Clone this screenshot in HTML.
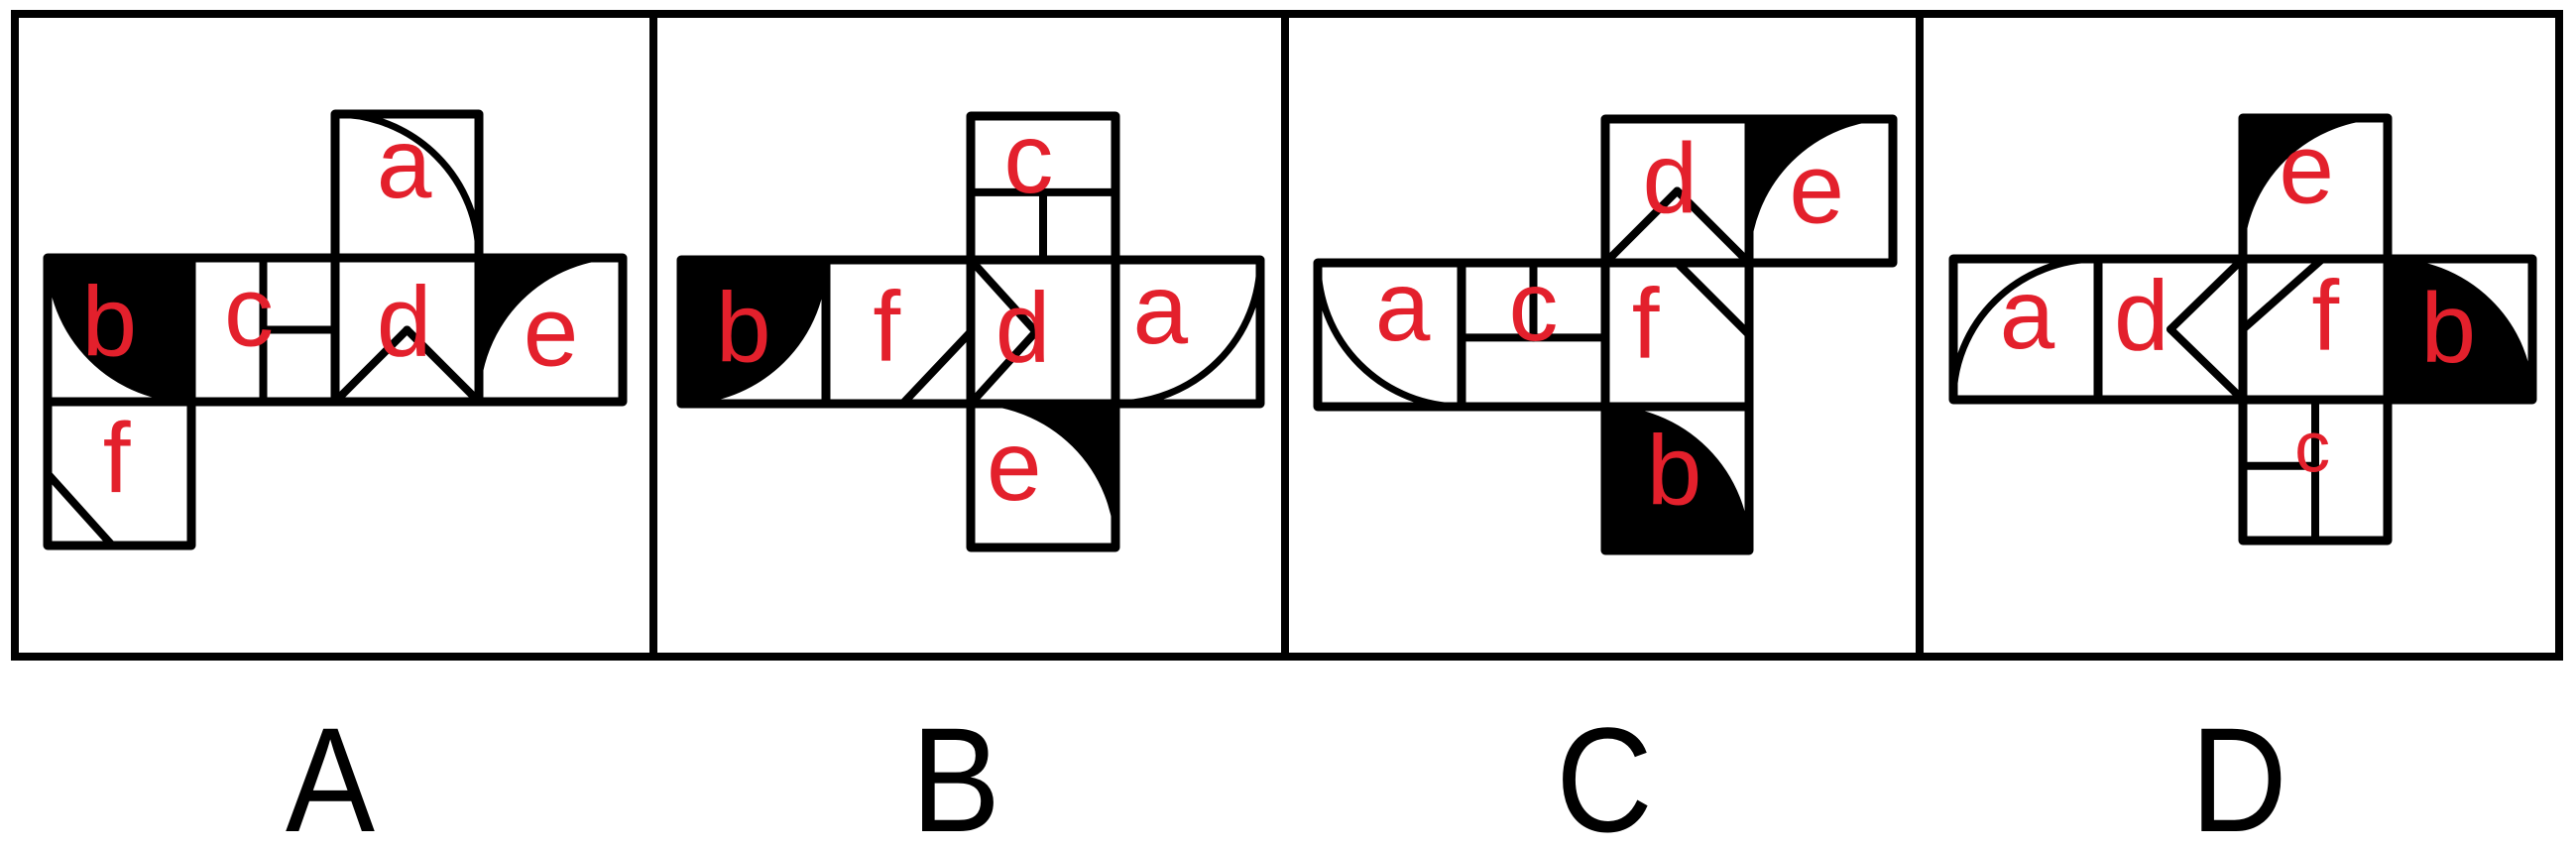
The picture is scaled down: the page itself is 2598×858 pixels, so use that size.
<!DOCTYPE html>
<html><head><meta charset="utf-8"><style>
html,body{margin:0;padding:0;background:#fff;width:2598px;height:858px;overflow:hidden}
svg{display:block}
</style></head><body>
<svg id="fig" width="2598" height="858" viewBox="0 0 2598 858" xmlns="http://www.w3.org/2000/svg">
<rect x="15" y="14" width="2566" height="648" fill="none" stroke="#000" stroke-width="8"/>
<line x1="659" y1="14" x2="659" y2="662" stroke="#000" stroke-width="8"/>
<line x1="1296" y1="14" x2="1296" y2="662" stroke="#000" stroke-width="8"/>
<line x1="1936" y1="14" x2="1936" y2="662" stroke="#000" stroke-width="8"/>
<g font-family="'Liberation Sans', sans-serif" font-size="150" fill="#000" text-anchor="middle">
<text x="333" y="838" transform="translate(333 0) scale(0.9 1) translate(-333 0)">A</text>
<text x="964" y="838" transform="translate(964 0) scale(0.9 1) translate(-964 0)">B</text>
<text x="1618" y="838" transform="translate(1618 0) scale(0.9 1) translate(-1618 0)">C</text>
<text x="2258" y="838" transform="translate(2258 0) scale(0.9 1) translate(-2258 0)">D</text>
</g>
</svg>
<script>
// panel geometry: [originX, originY, cellW, cellH]
const panelOrigins = [[48,115,145,145],[687,117,146,145],[1329,120,145,145],[1970,119,146,142]];
const panelNames = ['a','b','c','d'];
// faces: [col,row,letter,type,param,labelX,labelY]
const facesA = [
 [2,0,'a','arc',[0,1],0.48,0.40],
 [0,1,'b','disk',[1,0],0.43,0.43],
 [1,1,'c','lines',[[0.5,0,0.5,1],[0.5,0.5,1,0.5]],0.40,0.43],
 [2,1,'d','lines',[[0,1,0.5,0.5],[0.5,0.5,1,1]],0.48,0.43],
 [3,1,'e','outside',[1,1],0.50,0.57],
 [0,2,'f','lines',[[0,0.5,0.45,1]],0.48,0.38]
];
const facesB = [
 [2,0,'c','lines',[[0,0.53,1,0.53],[0.5,0.53,0.5,1]],0.40,0.35],
 [0,1,'b','disk',[0,0],0.43,0.46],
 [1,1,'f','lines',[[0.53,1,1,0.5]],0.42,0.45],
 [2,1,'d','lines',[[0,0,0.45,0.5],[0.45,0.5,0,1]],0.36,0.46],
 [3,1,'a','arc',[0,0],0.31,0.40],
 [2,2,'e','outside',[0,1],0.30,0.49]
];
const facesC = [
 [2,0,'d','lines',[[0,1,0.5,0.5],[0.5,0.5,1,1]],0.45,0.40],
 [3,0,'e','outside',[1,1],0.47,0.54],
 [0,1,'a','arc',[1,0],0.59,0.36],
 [1,1,'c','lines',[[0,0.52,1,0.52],[0.5,0,0.5,0.52]],0.50,0.36],
 [2,1,'f','lines',[[0.5,0,1,0.5]],0.28,0.41],
 [2,2,'b','disk',[0,1],0.48,0.43]
];
const facesD = [
 [2,0,'e','outside',[1,1],0.44,0.42],
 [0,1,'a','arc',[1,1],0.51,0.45],
 [1,1,'d','lines',[[1,0,0.5,0.5],[0.5,0.5,1,1]],0.30,0.39],
 [2,1,'f','lines',[[0,0.5,0.55,0]],0.57,0.39],
 [3,1,'b','disk',[0,1],0.42,0.48],
 [2,2,'c','lines',[[0.5,0,0.5,1],[0,0.47,0.5,0.47]],0.48,0.38]
];
const allFaces = [facesA, facesB, facesC, facesD];
const NS = 'http://www.w3.org/2000/svg';
const svg = document.getElementById('fig');
function mk(tag, attrs){const e=document.createElementNS(NS,tag);for(const k in attrs)e.setAttribute(k,attrs[k]);return e;}
allFaces.forEach((faces,pi)=>{
  const [ox,oy,sw,sh]=panelOrigins[pi];
  const g=mk('g',{});
  
  
  svg.appendChild(g);
  faces.forEach(f=>{
    const [col,row,letter,type,param,lx,ly]=f;
    const x0=ox+col*sw, y0=oy+row*sh;
    const X=u=>x0+u*sw, Y=v=>y0+v*sh;
    const fg=mk('g',{});
    
    
    g.appendChild(fg);
    if(type==='disk'||type==='outside'||type==='arc'){
      const [cx,cy]=param;
      const p1=[cx,1-cy], p2=[1-cx,cy], o=[1-cx,1-cy];
      const cr=(p1[0]-cx)*(p2[1]-cy)-(p1[1]-cy)*(p2[0]-cx);
      const sw1=cr>0?1:0;
      let d;
      if(type==='disk') d=`M${X(cx)},${Y(cy)} L${X(p1[0])},${Y(p1[1])} A${sw},${sh} 0 0 ${sw1} ${X(p2[0])},${Y(p2[1])} Z`;
      else if(type==='outside') d=`M${X(p1[0])},${Y(p1[1])} L${X(o[0])},${Y(o[1])} L${X(p2[0])},${Y(p2[1])} A${sw},${sh} 0 0 ${1-sw1} ${X(p1[0])},${Y(p1[1])} Z`;
      else d=`M${X(p1[0])},${Y(p1[1])} A${sw},${sh} 0 0 ${sw1} ${X(p2[0])},${Y(p2[1])}`;
      const p=mk('path',{d:d,fill:type==='arc'?'none':'#000',stroke:'#000','stroke-width':type==='arc'?7:2});
      
      
      fg.appendChild(p);
    } else {
      param.forEach(l=>{
        const ln=mk('line',{x1:X(l[0]),y1:Y(l[1]),x2:X(l[2]),y2:Y(l[3]),stroke:'#000','stroke-width':8,'stroke-linecap':'round'});
        
        
        fg.appendChild(ln);
      });
    }
    const r=mk('rect',{x:x0,y:y0,width:sw,height:sh,fill:'none',stroke:'#000','stroke-width':9,'stroke-linejoin':'round'});
    
    
    fg.appendChild(r);
    const fs=(pi===3&&letter==='c')?72:100;
    const asc='bdf'.includes(letter);
    const t=mk('text',{x:X(lx),y:Y(ly)+fs*(asc?0.36:0.26),'font-family':"'Liberation Sans', sans-serif",'font-size':fs,fill:'#e3202c','text-anchor':'middle'});
    t.textContent=letter;
    
    
    fg.appendChild(t);
  });
});
</script>
</body></html>
